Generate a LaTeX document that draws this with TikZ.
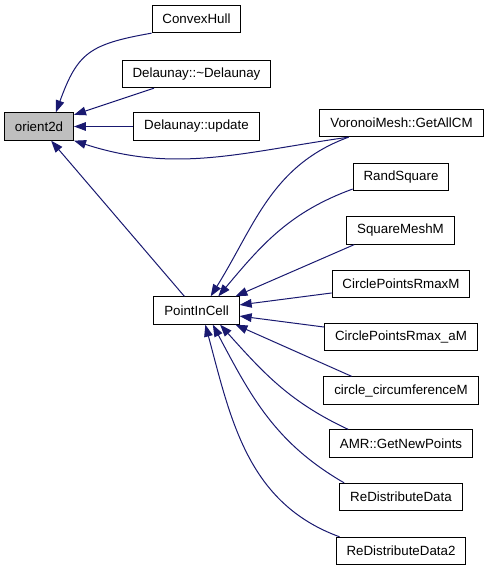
\documentclass[tikz,border=0pt]{standalone}
\usepackage{fontspec}
\setmainfont{Liberation Sans}
\usepackage{tikz}
\usetikzlibrary{arrows.meta}
\definecolor{edgeblue}{RGB}{25,25,112}
\tikzstyle{fn} = [draw, rectangle, line width=0.75pt, minimum height=20.5pt, inner xsep=7.8pt, inner ysep=0pt, font=\fontsize{10}{12}\selectfont]
\tikzstyle{cur} = [fn, fill=black!25]
\tikzstyle{callby} = [<-, draw=edgeblue, line width=0.75pt, >={Triangle[length=9pt,width=6.5pt]}]

\begin{document}
\begin{tikzpicture}[x=0.75pt,y=0.75pt]
  \useasboundingbox (0,0) rectangle (488,571);
  \node[cur] (orient) at (39,444.5) {orient2d};
  \node[fn] (pic) at (196.5,260.5) {PointInCell};
  \node[fn] (hull) at (196.5,552) {ConvexHull};
  \node[fn] (deldtor) at (196.5,497) {Delaunay::\textasciitilde Delaunay};
  \node[fn] (delupd) at (196.5,444.5) {Delaunay::update};
  \node[fn] (vgetallcm) at (401.5,448) {VoronoiMesh::GetAllCM};
  \node[fn] (randsq) at (401,394) {RandSquare};
  \node[fn] (sqmesh) at (400.5,340.5) {SquareMeshM};
  \node[fn] (cprmax) at (401,287) {CirclePointsRmaxM};
  \node[fn] (cprmaxa) at (401,234) {CirclePointsRmax\_aM};
  \node[fn] (circum) at (401,180.5) {circle\_circumferenceM};
  \node[fn] (amrnew) at (401,127.5) {AMR::GetNewPoints};
  \node[fn] (redist) at (401,74) {ReDistributeData};
  \node[fn] (redisttwo) at (401,20) {ReDistributeData2};
  % callers of orient2d
  \draw[callby] (orient.40) to[out=70,in=190,looseness=1.3] (hull.south west);
  \draw[callby] (orient) -- (deldtor);
  \draw[callby] (orient) -- (delupd);
  \draw[callby] (orient.south east) to[out=-18,in=188] (vgetallcm.195);
  \draw[callby] (orient) -- (pic);
  % callers of PointInCell
  \draw[callby] (pic.45) to[out=58,in=200] (vgetallcm.195);
  \draw[callby] (pic.33) to[out=50,in=200] (randsq.194);
  \draw[callby] (pic.20) -- (sqmesh.197);
  \draw[callby] (pic) -- (cprmax);
  \draw[callby] (pic) -- (cprmaxa);
  \draw[callby] (pic.-20) -- (circum.164);
  \draw[callby] (pic.329) to[out=-48,in=155] (amrnew.165);
  \draw[callby] (pic.319) to[out=-62,in=150] (redist.166);
  \draw[callby] (pic.302) to[out=-75,in=160] (redisttwo.167);
\end{tikzpicture}
\end{document}
